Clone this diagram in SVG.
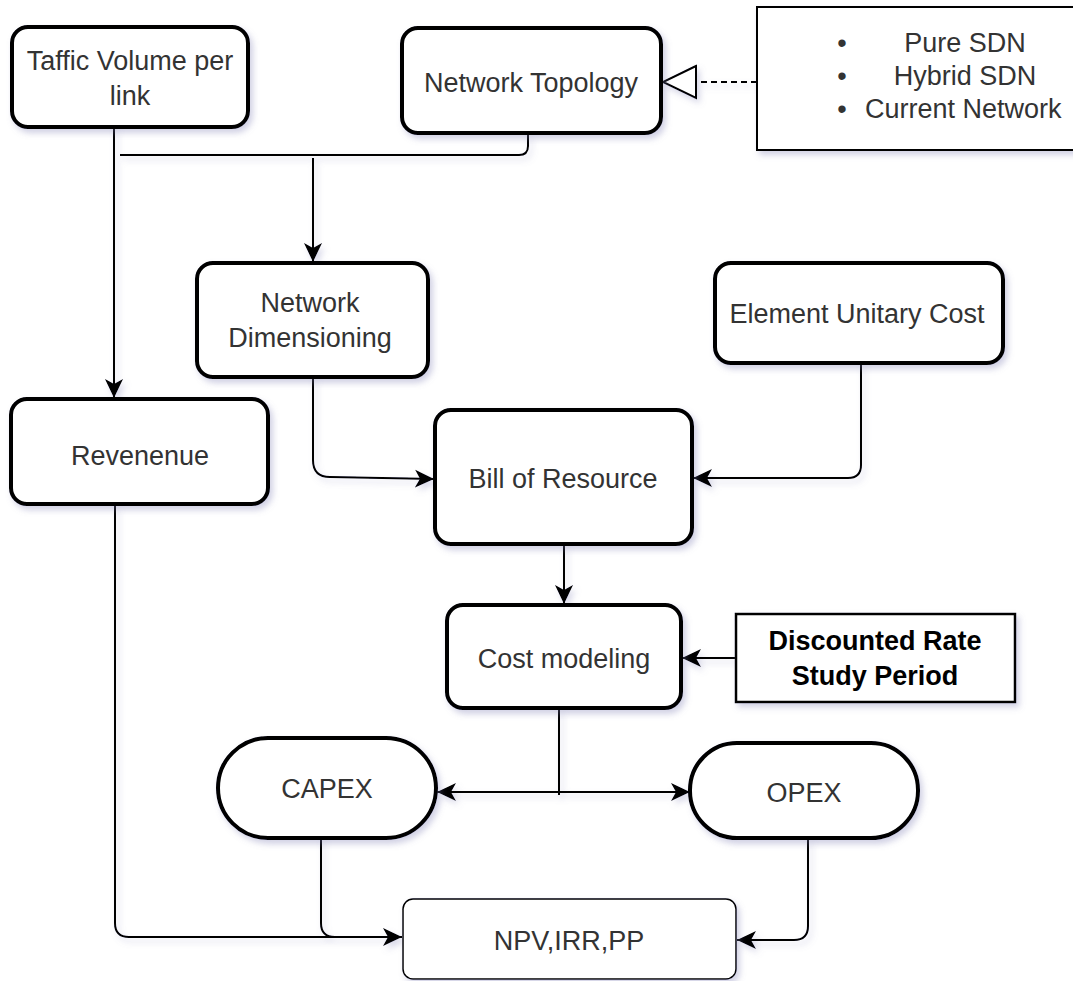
<svg xmlns="http://www.w3.org/2000/svg" width="1073" height="981" viewBox="0 0 1073 981">
<defs>
<filter id="sh" x="-10%" y="-10%" width="130%" height="140%">
<feDropShadow dx="3" dy="4" stdDeviation="3" flood-color="#7a7ab0" flood-opacity="0.35"/>
</filter>
<filter id="shc" filterUnits="userSpaceOnUse" x="0" y="0" width="1073" height="981">
<feDropShadow dx="3" dy="4" stdDeviation="3" flood-color="#7a7ab0" flood-opacity="0.3"/>
</filter>
<marker id="arr" markerUnits="userSpaceOnUse" markerWidth="20" markerHeight="20" viewBox="0 0 20 20" refX="19" refY="10" orient="auto">
<path d="M0,1 L19,10 L0,19 L5,10 Z" fill="#000"/>
</marker>
</defs>
<style>
.node{fill:#fff;stroke:#000;stroke-width:4;filter:url(#sh)}
.thin{fill:#fff;stroke:#000;stroke-width:2;filter:url(#sh)}
.npv{fill:#fff;stroke:#000;stroke-width:1.5;filter:url(#sh)}
.t{font-family:"Liberation Sans",Arial,sans-serif;font-size:27px;fill:#333;text-anchor:middle}
.b{font-family:"Liberation Sans",Arial,sans-serif;font-size:27px;font-weight:bold;fill:#000;text-anchor:middle}
.c{fill:none;stroke:#000;stroke-width:2}
.a{marker-end:url(#arr)}
</style>
<rect width="1073" height="981" fill="#fff"/>

<g id="connectors" filter="url(#shc)">
<path class="c a" d="M114,127 L114,398"/>
<path class="c" d="M528,133 L528,146 Q528,155 519,155 L120,155"/>
<path class="c a" d="M313,158 L313,262"/>
<path class="c a" d="M313,377 L313,460 Q313,477 330,477 L434,479"/>
<path class="c a" d="M861,363 L861,465 Q861,478 848,478 L693,478"/>
<path class="c a" d="M564,544 L564,604"/>
<path class="c a" d="M736,658 L682,658"/>
<path class="c" d="M559,708 L559,795"/>
<path class="c a" d="M559,792 L437,792"/>
<path class="c a" d="M559,792 L690,792"/>
<path class="c a" d="M115,505 L115,923 Q115,937 129,937 L402,937"/>
<path class="c" d="M321,838 L321,923 Q321,937 335,937"/>
<path class="c a" d="M808,838 L808,926 Q808,940 794,940 L737,940"/>
<path fill="none" stroke="#000" stroke-width="2" stroke-dasharray="6,4" d="M757,82 L696,82"/>
<path d="M696,66 L663,82 L696,98 Z" fill="#fff" stroke="#000" stroke-width="2"/>
</g>

<g id="traffic">
<rect class="node" x="12" y="27" width="236" height="100" rx="16"/>
<text class="t" x="130" y="70">Taffic Volume per</text>
<text class="t" x="130" y="105">link</text>
</g>

<g id="topology">
<rect class="node" x="402" y="28" width="259" height="105" rx="16"/>
<text class="t" x="531" y="92">Network Topology</text>
</g>

<g id="sdn-types">
<rect class="thin" x="757" y="7" width="330" height="143"/>
<text class="t" x="842" y="52">•</text>
<text class="t" x="842" y="85">•</text>
<text class="t" x="842" y="118">•</text>
<text class="t" x="965" y="52">Pure SDN</text>
<text class="t" x="965" y="85">Hybrid SDN</text>
<text class="t" x="865" y="118" style="text-anchor:start">Current Network</text>
</g>

<g id="dimensioning">
<rect class="node" x="197" y="263" width="231" height="114" rx="16"/>
<text class="t" x="310" y="312">Network</text>
<text class="t" x="310" y="347">Dimensioning</text>
</g>

<g id="unitary-cost">
<rect class="node" x="715" y="263" width="288" height="100" rx="16"/>
<text class="t" x="857" y="323">Element Unitary Cost</text>
</g>

<g id="revenue">
<rect class="node" x="11" y="399" width="257" height="105" rx="16"/>
<text class="t" x="140" y="465">Revenenue</text>
</g>

<g id="bill">
<rect class="node" x="435" y="410" width="257" height="134" rx="16"/>
<text class="t" x="563" y="488">Bill of Resource</text>
</g>

<g id="cost-modeling">
<rect class="node" x="447" y="605" width="234" height="103" rx="16"/>
<text class="t" x="564" y="668">Cost modeling</text>
</g>

<g id="discount">
<rect class="thin" x="736" y="614" width="279" height="88" style="stroke-width:2.5"/>
<text class="b" x="875" y="650">Discounted Rate</text>
<text class="b" x="875" y="685">Study Period</text>
</g>

<g id="capex">
<rect class="node" x="218" y="738" width="218" height="100" rx="50" ry="50"/>
<text class="t" x="327" y="798">CAPEX</text>
</g>

<g id="opex">
<rect class="node" x="690" y="743" width="228" height="95" rx="47" ry="47"/>
<text class="t" x="804" y="802">OPEX</text>
</g>

<g id="npv">
<rect class="npv" x="403" y="899" width="333" height="80" rx="10"/>
<text class="t" x="569" y="950">NPV,IRR,PP</text>
</g>
</svg>
